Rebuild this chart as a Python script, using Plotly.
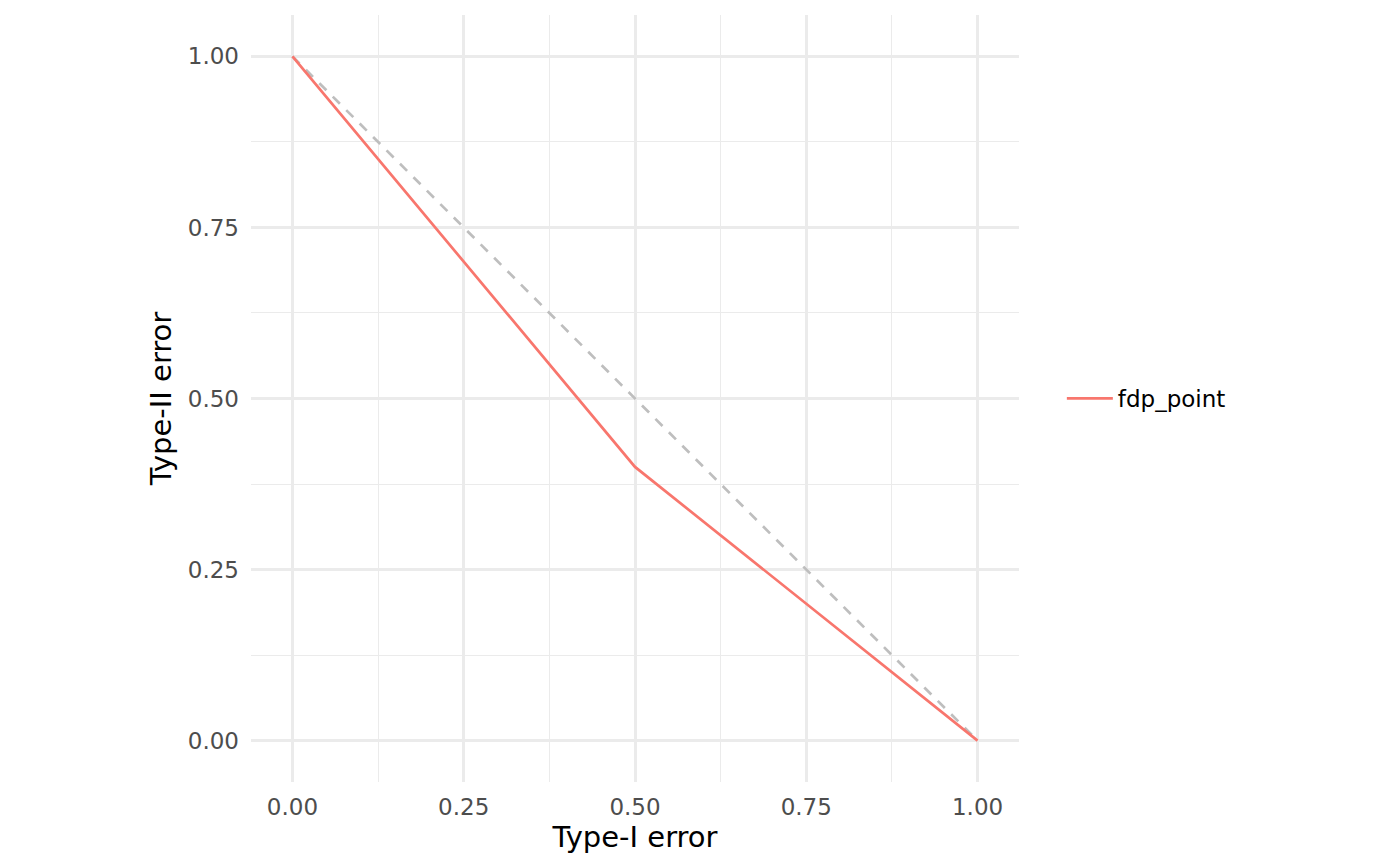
import plotly.graph_objects as go

type1_error = [0.0, 0.5, 1.0]
type2_error = [1.0, 0.4, 0.0]
diag_x = [0.0, 1.0]
diag_y = [1.0, 0.0]
series_name = "fdp_point"
tick_vals = [0.0, 0.25, 0.5, 0.75, 1.0]
tick_text = ["0.00", "0.25", "0.50", "0.75", "1.00"]
minor_vals = [0.125, 0.375, 0.625, 0.875]

FONT = "DejaVu Sans"
GRID = "#EBEBEB"

fig = go.Figure()
fig.add_trace(go.Scatter(x=diag_x, y=diag_y, mode="lines",
                         line=dict(color="#BEBEBE", width=2.7, dash="10px,9px"),
                         showlegend=False, hoverinfo="skip"))
fig.add_trace(go.Scatter(x=type1_error, y=type2_error, mode="lines",
                         line=dict(color="#F8766D", width=2.7),
                         name=series_name))

rng = [-0.0605, 1.0605]
axis_common = dict(
    range=rng, tickvals=tick_vals, ticktext=tick_text,
    showgrid=True, gridcolor=GRID, gridwidth=2.6,
    zeroline=False, showline=False, ticks="",
    tickfont=dict(family=FONT, size=23, color="#4D4D4D"),
    minor=dict(tickvals=minor_vals, showgrid=True, gridcolor=GRID, gridwidth=1.3),
    automargin=False,
)

fig.update_layout(
    width=1400, height=866,
    margin=dict(l=251, r=381, t=15, b=84),
    plot_bgcolor="white", paper_bgcolor="white",
    font=dict(family=FONT),
    xaxis=dict(**axis_common,
               title=dict(text="Type-I error", font=dict(family=FONT, size=29, color="black"), standoff=5),
               ticklabelstandoff=9),
    yaxis=dict(**axis_common,
               title=dict(text="Type-II error", font=dict(family=FONT, size=29, color="black"), standoff=7),
               ticklabelstandoff=11),
    legend=dict(x=1.0558, y=0.5, xanchor="left", yanchor="middle",
                itemwidth=46,
                font=dict(family=FONT, size=23, color="black"),
                bgcolor="rgba(0,0,0,0)"),
)

fig.write_html("out.html", config={"displayModeBar": False},
               post_script="document.body.style.margin='0';")
